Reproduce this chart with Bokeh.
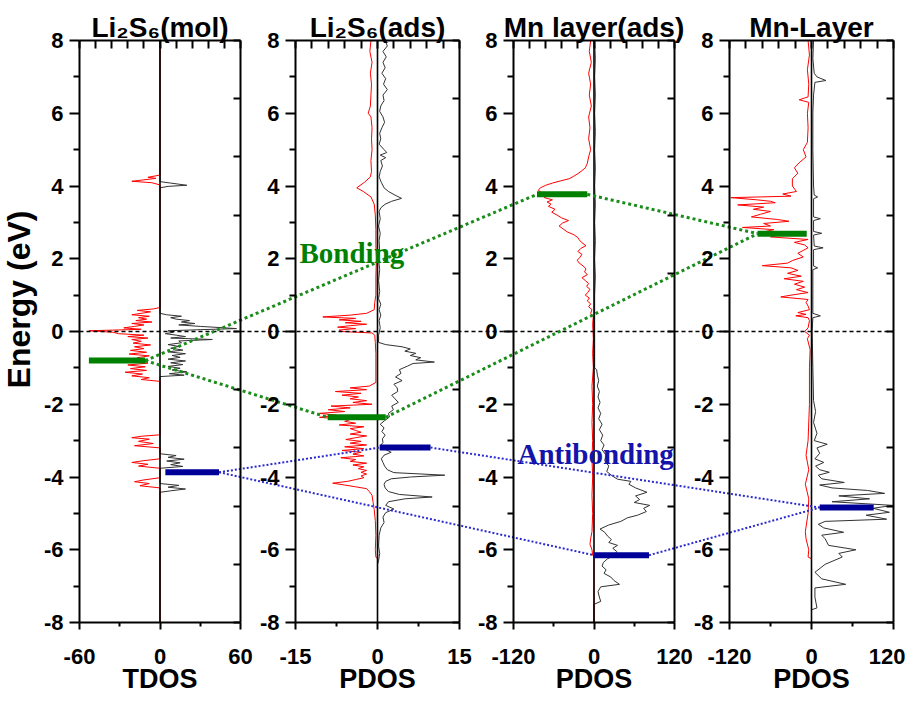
import numpy as np
from bokeh.plotting import figure
from bokeh.models import Range1d, LinearAxis, FixedTicker
from bokeh.core.properties import value
from bokeh.embed import file_html
from bokeh.resources import INLINE

# ---------------- data ----------------
panel_titles = ["Li\u2082S\u2086(mol)", "Li\u2082S\u2086(ads)", "Mn layer(ads)", "Mn-Layer"]
panel_xlabels = ["TDOS", "PDOS", "PDOS", "PDOS"]
y_label = "Energy (eV)"
panel_limits = [(-60, 60), (-15, 15), (-120, 120), (-120, 120)]
panel_xticks = [[-60, 0, 60], [-15, 0, 15], [-120, 0, 120], [-120, 0, 120]]
panel_xminor = [[-30, 30], [-7.5, 7.5], [-60, 60], [-60, 60]]
energy_ticks = [-8, -6, -4, -2, 0, 2, 4, 6, 8]
energy_minor = [-7, -5, -3, -1, 1, 3, 5, 7]
fermi_level = 0

# (energy, DOS) pairs; spin-up drawn negative (red), spin-down positive (black)
p1_red = [(8.0, 0), (4.3, 0), (4.24, -9), (4.21, -3), (4.17, -12), (4.13, -21), (4.09, -6), (4.03, 0),
          (0.66, 0), (0.62, -5), (0.58, -17), (0.54, -7), (0.5, -14), (0.46, -21), (0.42, -8), (0.38, -16),
          (0.34, -10), (0.3, -18), (0.26, -6), (0.22, -21), (0.18, -12), (0.14, -19), (0.1, -27), (0.06, -14),
          (0.02, -53), (-0.02, -35), (-0.06, -31), (-0.1, -12), (-0.14, -24), (-0.18, -9), (-0.22, -21),
          (-0.27, -14), (-0.32, -20), (-0.37, -7), (-0.42, -19), (-0.47, -12), (-0.52, -22), (-0.57, -10),
          (-0.62, -23), (-0.67, -8), (-0.72, -17), (-0.77, -12), (-0.82, -20), (-0.87, -9), (-0.92, -24),
          (-0.97, -11), (-1.02, -22), (-1.07, -10), (-1.12, -26), (-1.17, -13), (-1.22, -21), (-1.27, -8),
          (-1.32, -14), (-1.37, 0),
          (-2.84, 0), (-2.88, -14), (-2.92, -21), (-2.96, -8), (-3.02, -16), (-3.08, -5), (-3.14, -19), (-3.2, 0),
          (-3.5, 0), (-3.55, -12), (-3.6, -21), (-3.65, -9), (-3.7, -16), (-3.76, 0),
          (-4.02, 0), (-4.08, -12), (-4.13, -19), (-4.18, -8), (-4.24, -15), (-4.3, 0), (-8.0, 0)]
p1_black = [(8.0, 0), (4.12, 0), (4.08, 8), (4.05, 14), (4.02, 20), (3.99, 6), (3.95, 0),
            (0.5, 0), (0.46, 5), (0.42, 16), (0.38, 8), (0.34, 12), (0.3, 22), (0.26, 16), (0.22, 26),
            (0.18, 14), (0.14, 30), (0.11, 44), (0.08, 57), (0.05, 30), (0.02, 6), (-0.02, 10), (-0.06, 4),
            (-0.1, 12), (-0.14, 19), (-0.18, 8), (-0.22, 39), (-0.26, 14), (-0.31, 16), (-0.36, 6), (-0.41, 14),
            (-0.46, 8), (-0.51, 17), (-0.56, 6), (-0.61, 19), (-0.66, 9), (-0.71, 15), (-0.76, 6), (-0.81, 19),
            (-0.86, 8), (-0.91, 17), (-0.96, 6), (-1.01, 15), (-1.06, 9), (-1.11, 20), (-1.16, 7), (-1.2, 18),
            (-1.24, 0),
            (-3.36, 0), (-3.41, 12), (-3.46, 6), (-3.51, 18), (-3.56, 5), (-3.61, 15), (-3.66, 8), (-3.71, 17),
            (-3.76, 0),
            (-4.18, 0), (-4.23, 14), (-4.28, 6), (-4.33, 19), (-4.38, 8), (-4.42, 0), (-8.0, 0)]
p2_red = [(8.0, -1.2), (7.7, -1.4), (7.4, -1.0), (7.1, -1.3), (6.8, -1.1), (6.5, -1.2), (6.2, -1.3), (6.0, -1.7),
          (5.9, -1.2), (5.6, -1.0), (5.3, -1.1), (5.0, -1.0), (4.7, -1.2), (4.4, -1.1), (4.25, -1.3), (4.1, -2.4),
          (3.95, -3.8), (3.85, -2.6), (3.7, -1.2), (3.5, -0.6), (3.2, -0.4), (2.8, -0.3), (2.4, -0.3), (2.0, -0.2),
          (1.5, -0.3), (1.0, -0.3), (0.8, -0.5), (0.6, -0.6), (0.5, -2.0), (0.45, -5.0), (0.4, -10.0), (0.36, -4.0),
          (0.32, -7.0), (0.28, -3.0), (0.24, -5.9), (0.2, -2.0), (0.16, -5.0), (0.12, -7.3), (0.08, -4.0),
          (0.04, -7.0), (0.0, -6.5), (-0.04, -1.0), (-0.1, -0.5), (-0.3, -0.4), (-0.6, -0.3), (-1.4, -0.3),
          (-1.5, -1.5), (-1.55, -5.0), (-1.6, -2.0), (-1.65, -7.7), (-1.7, -3.0), (-1.75, -6.5), (-1.8, -3.5),
          (-1.85, -5.0), (-1.9, -2.0), (-1.95, -4.5), (-2.0, -1.0), (-2.05, -8.5), (-2.1, -5.0), (-2.15, -9.0),
          (-2.2, -6.0), (-2.25, -10.6), (-2.3, -7.5), (-2.36, -10.6), (-2.42, -5.0), (-2.47, -6.0), (-2.52, -4.0),
          (-2.57, -7.0), (-2.62, -2.5), (-2.67, -5.0), (-2.72, -4.0), (-2.77, -3.0), (-2.82, -5.0), (-2.87, -2.0),
          (-2.92, -4.0), (-2.97, -5.8), (-3.02, -3.0), (-3.07, -5.0), (-3.12, -2.0), (-3.17, -6.0), (-3.22, -2.5),
          (-3.27, -6.5), (-3.32, -3.0), (-3.37, -4.5), (-3.42, -2.5), (-3.47, -6.7), (-3.52, -4.0), (-3.57, -5.0),
          (-3.62, -2.0), (-3.67, -4.5), (-3.72, -2.5), (-3.77, -3.5), (-3.82, -2.0), (-3.87, -3.0), (-3.92, -2.0),
          (-3.97, -3.0), (-4.02, -2.5), (-4.07, -4.0), (-4.12, -5.5), (-4.17, -8.2), (-4.22, -6.0), (-4.27, -4.0),
          (-4.32, -2.0), (-4.4, -1.5), (-4.5, -1.0), (-4.7, -0.8), (-4.9, -0.6), (-5.2, -0.4), (-5.6, -0.3),
          (-6.0, -0.4), (-6.2, -0.3), (-6.25, 0.0), (-8.0, 0.0)]
p2_black = [(8.0, 1.4), (7.85, 1.8), (7.7, 1.0), (7.55, 1.6), (7.4, 1.0), (7.25, 1.4), (7.1, 0.8), (6.95, 1.5),
            (6.8, 1.1), (6.65, 1.8), (6.5, 1.0), (6.35, 1.2), (6.2, 0.6), (6.05, 0.4), (5.9, 1.0), (5.75, 1.3),
            (5.6, 0.8), (5.45, 0.4), (5.3, 0.6), (5.15, 0.3), (5.0, 1.2), (4.92, 1.7), (4.85, 0.5), (4.78, 1.5),
            (4.7, 0.6), (4.55, 0.9), (4.4, 0.5), (4.25, 0.3), (4.1, 0.7), (3.95, 1.2), (3.85, 2.0), (3.75, 3.2),
            (3.66, 4.4), (3.58, 2.6), (3.5, 1.4), (3.4, 0.6), (3.3, 0.3), (3.1, 0.5), (2.9, 0.2), (2.7, 0.5),
            (2.5, 0.3), (2.2, 0.4), (2.0, 0.2), (1.7, 0.4), (1.4, 0.2), (1.1, 0.4), (0.9, 0.2), (0.75, 0.6),
            (0.6, 0.3), (0.45, 0.6), (0.3, 0.3), (0.1, 0.5), (-0.1, 0.2), (-0.3, 0.2), (-0.36, 1.5), (-0.42, 4.5),
            (-0.48, 6.0), (-0.54, 5.0), (-0.6, 7.0), (-0.66, 6.0), (-0.72, 7.9), (-0.78, 7.0), (-0.84, 10.4),
            (-0.88, 6.5), (-0.95, 5.5), (-1.05, 4.0), (-1.15, 4.3), (-1.25, 3.3), (-1.35, 4.5), (-1.45, 3.0),
            (-1.55, 3.6), (-1.65, 3.7), (-1.75, 2.6), (-1.85, 3.2), (-1.95, 3.8), (-2.05, 2.6), (-2.15, 2.9),
            (-2.25, 2.0), (-2.35, 2.2), (-2.45, 1.3), (-2.55, 0.5), (-2.65, 1.2), (-2.75, 0.8), (-2.85, 1.4),
            (-2.95, 0.9), (-3.05, 1.0), (-3.15, 0.5), (-3.25, 1.5), (-3.32, 2.5), (-3.4, 1.2), (-3.5, 0.7),
            (-3.6, 1.0), (-3.7, 1.3), (-3.8, 1.8), (-3.88, 3.0), (-3.95, 12.3), (-4.0, 6.0), (-4.05, 2.5),
            (-4.12, 1.5), (-4.2, 1.2), (-4.3, 1.4), (-4.4, 2.0), (-4.48, 4.0), (-4.55, 10.0), (-4.6, 5.0),
            (-4.68, 2.0), (-4.78, 1.5), (-4.88, 3.0), (-4.98, 1.5), (-5.1, 1.0), (-5.25, 1.2), (-5.4, 0.6),
            (-5.6, 0.3), (-5.9, 0.2), (-6.1, 0.4), (-6.3, 0.2), (-6.4, 0.0), (-8.0, 0.0)]
p3_red = [(8.0, -5), (7.7, -7), (7.4, -4), (7.1, -8), (6.8, -5), (6.5, -7), (6.2, -4), (5.9, -8), (5.6, -6),
          (5.3, -8), (5.0, -5), (4.8, -8), (4.62, -10), (4.5, -13), (4.42, -18), (4.34, -24), (4.27, -30),
          (4.2, -37), (4.14, -50), (4.08, -62), (4.02, -72), (3.95, -80), (3.88, -83), (3.8, -76), (3.74, -68),
          (3.68, -74), (3.62, -62), (3.56, -70), (3.5, -64), (3.44, -68), (3.36, -58), (3.28, -63), (3.2, -55),
          (3.12, -48), (3.05, -38), (2.98, -47), (2.9, -52), (2.82, -46), (2.74, -40), (2.66, -30), (2.58, -24),
          (2.52, -22), (2.44, -18), (2.36, -12), (2.28, -20), (2.2, -24), (2.12, -18), (2.04, -21), (1.96, -25),
          (1.88, -22), (1.8, -16), (1.72, -12), (1.64, -14), (1.56, -10), (1.48, -18), (1.4, -13), (1.32, -8),
          (1.24, -11), (1.16, -6), (1.08, -9), (1.0, -13), (0.92, -7), (0.84, -10), (0.76, -5), (0.68, -8),
          (0.6, -3), (0.5, -5), (0.42, -1), (0.2, -2), (-0.2, -1), (-0.6, -2), (-1.0, -1), (-1.5, -3), (-2.0, -2),
          (-2.5, -3), (-3.0, -2), (-3.5, -3), (-4.0, -2), (-4.5, -3), (-5.0, -2), (-5.5, -3), (-5.7, -5),
          (-5.85, -6), (-6.0, -3), (-6.15, -2), (-6.2, 0), (-8.0, 0)]
p3_black = [(8.0, 1), (7.5, 2), (7.0, 1), (6.5, 2), (6.0, 1), (5.5, 2), (5.0, 1), (4.5, 2), (4.0, 1), (3.5, 2),
            (3.0, 1), (2.5, 2), (2.0, 1), (1.5, 2), (1.0, 1), (0.5, 1), (0.0, 1), (-0.5, 1), (-1.0, 1),
            (-1.05, 4), (-1.2, 5), (-1.35, 7), (-1.5, 5), (-1.65, 8), (-1.8, 6), (-1.95, 9), (-2.1, 6),
            (-2.25, 10), (-2.4, 7), (-2.55, 12), (-2.7, 8), (-2.85, 13), (-3.0, 10), (-3.12, 15), (-3.25, 12),
            (-3.4, 18), (-3.55, 16), (-3.7, 22), (-3.85, 19), (-3.98, 28), (-4.06, 35), (-4.12, 55), (-4.2, 52),
            (-4.3, 62), (-4.42, 79), (-4.52, 62), (-4.62, 68), (-4.7, 60), (-4.78, 83), (-4.86, 74), (-4.95, 78),
            (-5.05, 65), (-5.12, 50), (-5.22, 40), (-5.32, 22), (-5.43, 9), (-5.52, 16), (-5.62, 20), (-5.72, 26),
            (-5.8, 22), (-5.88, 35), (-5.96, 28), (-6.05, 34), (-6.15, 30), (-6.25, 20), (-6.35, 14), (-6.45, 12),
            (-6.55, 18), (-6.65, 15), (-6.75, 25), (-6.85, 30), (-6.95, 38), (-7.02, 10), (-7.15, 6), (-7.3, 8),
            (-7.42, 10), (-7.5, 0), (-8.0, 0)]
p4_red = [(8.0, -5), (7.6, -3), (7.2, -6), (6.8, -4), (6.45, -5), (6.37, -18), (6.3, -4), (6.0, -6), (5.6, -5),
          (5.2, -6), (5.0, -12), (4.8, -8), (4.64, -18), (4.5, -25), (4.35, -20), (4.2, -28), (4.0, -28),
          (3.85, -22), (3.78, -42), (3.72, -30), (3.68, -118), (3.62, -80), (3.58, -60), (3.54, -53), (3.48, -108),
          (3.42, -70), (3.36, -85), (3.3, -60), (3.22, -75), (3.15, -88), (3.08, -50), (3.03, -33), (2.97, -70),
          (2.9, -60), (2.86, -101), (2.8, -55), (2.74, -70), (2.68, -40), (2.6, -60), (2.53, -5), (2.45, -25),
          (2.38, -10), (2.3, -5), (2.15, -20), (2.05, -12), (1.95, -28), (1.88, -35), (1.81, -72), (1.75, -30),
          (1.68, -20), (1.6, -35), (1.52, -15), (1.45, -40), (1.38, -12), (1.3, -25), (1.22, -10), (1.15, -22),
          (1.07, -5), (1.0, -30), (0.95, -45), (0.88, -5), (0.8, -8), (0.7, -5), (0.6, -3), (0.52, -20),
          (0.47, -8), (0.43, -23), (0.38, -5), (0.3, -3), (0.1, -5), (0.0, -10), (-0.1, -3), (-0.2, -6),
          (-0.5, -2), (-1.0, -3), (-2.0, -3), (-3.0, -5), (-3.4, -8), (-3.8, -4), (-4.2, -9), (-4.6, -4),
          (-5.0, -5), (-5.5, -9), (-5.7, -8), (-6.0, -4), (-6.2, -5), (-6.25, 0), (-8.0, 0)]
p4_black = [(8.0, 3), (7.5, 2), (7.1, 4), (7.0, 8), (6.9, 21), (6.85, 5), (6.5, 3), (6.0, 2), (5.0, 2), (4.0, 3),
            (3.75, 4), (3.7, 9), (3.65, 3), (3.15, 3), (3.1, 13), (3.05, 3), (2.75, 3), (2.7, 15), (2.65, 3),
            (2.35, 4), (2.3, 17), (2.25, 3), (1.8, 3), (1.75, 9), (1.7, 2), (0.5, 2), (0.43, 13), (0.38, 2),
            (0.0, 1), (-1.0, 2), (-1.9, 3), (-2.2, 6), (-2.5, 3), (-2.8, 8), (-3.0, 4), (-3.1, 23), (-3.2, 8),
            (-3.35, 12), (-3.5, 5), (-3.6, 18), (-3.7, 6), (-3.8, 12), (-3.87, 26), (-3.95, 10), (-4.05, 15),
            (-4.15, 48), (-4.22, 12), (-4.3, 30), (-4.37, 82), (-4.45, 107), (-4.52, 40), (-4.6, 85), (-4.68, 30),
            (-4.78, 119), (-4.86, 90), (-4.97, 114), (-5.05, 80), (-5.16, 110), (-5.22, 20), (-5.3, 10),
            (-5.4, 18), (-5.52, 47), (-5.6, 15), (-5.7, 20), (-5.88, 25), (-6.0, 65), (-6.1, 40), (-6.2, 45),
            (-6.4, 20), (-6.62, 5), (-6.8, 15), (-6.95, 50), (-7.05, 5), (-7.3, 5), (-7.6, 8), (-7.65, 0), (-8.0, 0)]

red_curves = [p1_red, p2_red, p3_red, p4_red]
black_curves = [p1_black, p2_black, p3_black, p4_black]

# energy levels (one per panel): energy, x start, x end
green_level_E = [-0.8, -2.36, 3.77, 2.69]
green_level_x0 = [-53, -9.1, -85, -79]
green_level_x1 = [-11, 1.5, -10, -7]
blue_level_E = [-3.87, -3.19, -6.15, -4.84]
blue_level_x0 = [4, 0.4, 0, 12]
blue_level_x1 = [44, 9.7, 82, 91]
# links: right end of level in panel a -> left end of level in panel b
green_links = [(0, 2), (0, 1), (1, 3), (2, 3)]
blue_links = [(0, 1), (0, 2), (1, 3), (2, 3)]

# ---------------- layout / style ----------------
FIG_W, FIG_H = 905, 692
PLOT_TOP, PLOT_BOT = 40, 622          # pixel rows of E=8 and E=-8
S = (PLOT_BOT - PLOT_TOP) / 16.0      # px per eV
Y_TOP = 8 + PLOT_TOP / S
Y_BOT = -8 - (FIG_H - PLOT_BOT) / S
panel_span = [(79, 240), (295, 459), (513, 674), (729, 893)]   # pixel columns of each panel
YLABEL_POS = (18, 0.88)
BONDING_POS = (299, 2.17)
ANTIBONDING_POS = (517, -3.38)
TICK_FONT = "22px"
LABEL_FONT = "27px"
TITLE_FONT = "28px"
YLABEL_FONT = "32px"
SANS = "Liberation Sans"
SERIF = "Liberation Serif"
GREEN = "#008000"
BLUE = "#000099"

p = figure(width=FIG_W, height=FIG_H, x_range=Range1d(0, FIG_W), y_range=Range1d(Y_BOT, Y_TOP),
           x_axis_location=None, y_axis_location=None, toolbar_location=None,
           output_backend="svg", min_border_left=0, min_border_right=0,
           min_border_top=0, min_border_bottom=0, background_fill_color="white")
p.outline_line_color = None
p.title.visible = False
p.grid.visible = False

extra = {}
for i, (lo, hi) in enumerate(panel_limits):
    a, b = panel_span[i]
    k = (hi - lo) / (b - a)
    extra[f"p{i}"] = Range1d(lo - a * k, lo + (FIG_W - a) * k)
p.extra_x_ranges = extra


def to_parent(i, v):
    lo, hi = panel_limits[i]
    a, b = panel_span[i]
    return a + (v - lo) / (hi - lo) * (b - a)


def style_axis(ax):
    ax.axis_line_width = 2
    ax.axis_line_color = "black"
    ax.major_tick_line_width = 2
    ax.minor_tick_line_width = 2
    ax.major_label_text_font = SANS
    ax.major_label_text_font_style = "bold"
    ax.major_label_text_font_size = TICK_FONT
    ax.major_label_text_color = "black"
    ax.axis_label_text_font = SANS
    ax.axis_label_text_font_style = "bold"
    ax.axis_label_text_color = "black"


ylabels = {t: str(t) for t in energy_ticks}
right_ticks = list(np.linspace(-8, 8, 11))

for i, (lo, hi) in enumerate(panel_limits):
    a, b = panel_span[i]
    # left energy axis
    ax = LinearAxis(fixed_location=a, bounds=(-8, 8))
    ax.ticker = FixedTicker(ticks=energy_ticks, minor_ticks=energy_minor)
    ax.major_label_overrides = ylabels
    style_axis(ax)
    ax.major_tick_out = 10
    ax.major_tick_in = 0
    ax.minor_tick_out = 6
    ax.minor_tick_in = 0
    ax.major_label_standoff = 6
    p.add_layout(ax, "left")

    # right mirror axis
    rx = LinearAxis(fixed_location=b, bounds=(-8, 8), ticker=FixedTicker(ticks=right_ticks))
    style_axis(rx)
    rx.major_tick_in = 7
    rx.major_tick_out = 0
    rx.minor_tick_in = 0
    rx.minor_tick_out = 0
    rx.major_label_text_font_size = "0px"
    rx.major_label_text_alpha = 0
    p.add_layout(rx, "right")

    # top mirror axis carrying the panel title
    tx = LinearAxis(x_range_name=f"p{i}", fixed_location=8, bounds=(lo, hi),
                    ticker=FixedTicker(ticks=list(np.linspace(lo, hi, 11))),
                    axis_label=panel_titles[i])
    style_axis(tx)
    tx.major_tick_in = 8
    tx.major_tick_out = 0
    tx.minor_tick_in = 0
    tx.minor_tick_out = 0
    tx.major_label_text_font_size = "0px"
    tx.major_label_text_alpha = 0
    tx.major_label_standoff = 0
    tx.axis_label_text_font_size = TITLE_FONT
    tx.axis_label_standoff = -2
    p.add_layout(tx, "above")

    # bottom DOS axis
    bx = LinearAxis(x_range_name=f"p{i}", fixed_location=-8, bounds=(lo, hi),
                    ticker=FixedTicker(ticks=panel_xticks[i], minor_ticks=panel_xminor[i]),
                    axis_label=panel_xlabels[i])
    bx.major_label_overrides = {t: str(t) for t in panel_xticks[i]}
    style_axis(bx)
    bx.major_tick_out = 7
    bx.major_tick_in = 0
    bx.minor_tick_out = 4
    bx.minor_tick_in = 0
    bx.major_label_standoff = 19
    bx.axis_label_text_font_size = LABEL_FONT
    bx.axis_label_standoff = -3
    p.add_layout(bx, "below")

    # DOS curves
    rE, rV = zip(*red_curves[i])
    kE, kV = zip(*black_curves[i])
    p.line(x=list(kV), y=list(kE), x_range_name=f"p{i}", line_color="#333333", line_width=1)
    p.line(x=list(rV), y=list(rE), x_range_name=f"p{i}", line_color="#ff0000", line_width=1)
    # zero line of the panel
    p.segment(x0=[0], x1=[0], y0=[energy_ticks[0]], y1=[energy_ticks[-1]], x_range_name=f"p{i}",
              line_color="black", line_width=1.6)

# Fermi level across all panels
p.segment(x0=[panel_span[0][0]], x1=[panel_span[-1][1]], y0=[fermi_level], y1=[fermi_level],
          line_color="black", line_width=1.3, line_dash="4 3")

# links between levels
for links, E, x0, x1, color, width, dash in [
        (green_links, green_level_E, green_level_x0, green_level_x1, "#1a8c1a", 3, "3 3"),
        (blue_links, blue_level_E, blue_level_x0, blue_level_x1, "#2a2ad0", 2, "2 2")]:
    sx0 = [to_parent(a, x1[a]) for a, b in links]
    sy0 = [E[a] for a, b in links]
    sx1 = [to_parent(b, x0[b]) for a, b in links]
    sy1 = [E[b] for a, b in links]
    p.segment(x0=sx0, y0=sy0, x1=sx1, y1=sy1, line_color=color, line_width=width, line_dash=dash)

# level bars
for i in range(4):
    p.segment(x0=[green_level_x0[i]], x1=[green_level_x1[i]], y0=[green_level_E[i]], y1=[green_level_E[i]],
              x_range_name=f"p{i}", line_color=GREEN, line_width=6)
    p.segment(x0=[blue_level_x0[i]], x1=[blue_level_x1[i]], y0=[blue_level_E[i]], y1=[blue_level_E[i]],
              x_range_name=f"p{i}", line_color=BLUE, line_width=6)

# texts
p.text(x=[YLABEL_POS[0]], y=[YLABEL_POS[1]], text=[y_label], angle=np.pi / 2, text_font=value(SANS),
       text_font_size=YLABEL_FONT, text_font_style="bold", text_color="black",
       text_align="center", text_baseline="middle")
p.text(x=[BONDING_POS[0]], y=[BONDING_POS[1]], text=["Bonding"], text_font=value(SERIF), text_font_size="29px",
       text_font_style="bold", text_color=GREEN, text_baseline="alphabetic", text_align="left")
p.text(x=[ANTIBONDING_POS[0]], y=[ANTIBONDING_POS[1]], text=["Antibonding"], text_font=value(SERIF),
       text_font_size="29px", text_font_style="bold", text_color="#1414aa", text_baseline="alphabetic",
       text_align="left")

open("out.html", "w").write(file_html(p, INLINE))
